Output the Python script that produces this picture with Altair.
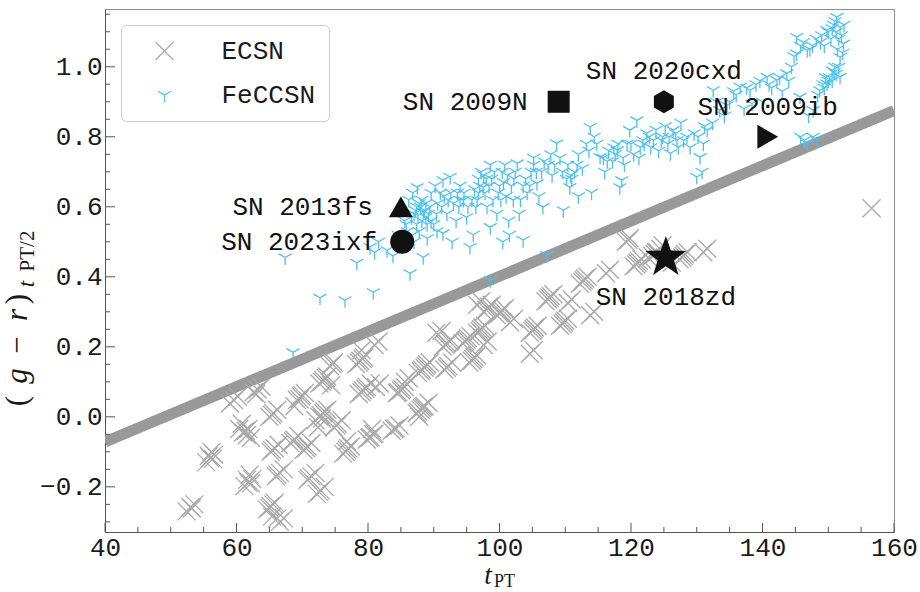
import altair as alt
import pandas as pd

# ---------------- data ----------------
ecsn_pts = [
    (52.4, -0.27), (53.0, -0.258), (53.6, -0.25), (53.2, -0.262),
    (55.4, -0.13), (56.0, -0.118), (56.6, -0.108), (56.2, -0.10), (55.8, -0.112), (56.4, -0.12),
    (59.0, 0.038), (59.6, 0.048), (60.2, 0.058),
    (60.4, -0.035), (61.0, -0.045), (61.6, -0.052), (62.2, -0.06), (60.8, -0.02), (61.4, -0.04), (61.8, -0.035),
    (61.2, -0.198), (61.8, -0.188), (62.4, -0.178), (62.0, -0.165), (61.6, -0.18), (62.2, -0.19),
    (62.6, 0.07), (63.2, 0.078), (63.8, 0.086), (63.0, 0.065),
    (64.6, -0.265), (65.2, -0.255), (65.8, -0.245), (66.6, -0.30), (67.2, -0.29), (65.4, -0.285),
    (65.0, -0.26), (65.6, -0.25), (66.2, -0.29),
    (65.0, 0.0), (65.6, 0.01), (66.2, 0.02), (65.4, 0.005),
    (65.2, -0.10), (65.8, -0.09), (66.4, -0.08), (65.4, -0.095),
    (66.0, -0.17), (66.6, -0.16), (67.2, -0.15), (66.2, -0.165),
    (68.2, -0.075), (68.8, -0.065), (69.4, -0.055), (68.6, -0.07),
    (69.2, 0.048), (69.8, 0.058), (70.4, 0.068), (68.8, 0.03), (69.6, 0.05), (70.0, 0.062),
    (70.2, -0.095), (70.8, -0.085), (71.4, -0.075), (70.6, -0.09),
    (70.8, -0.18), (71.4, -0.17), (72.0, -0.16), (71.0, -0.175),
    (72.2, -0.22), (72.8, -0.21), (73.4, -0.20), (72.6, -0.215),
    (72.0, -0.01), (72.6, 0.0), (73.2, 0.01), (73.8, 0.02), (72.4, -0.03), (72.8, 0.005), (73.0, -0.005), (73.4, 0.015),
    (72.6, 0.095), (73.2, 0.105), (73.8, 0.115), (74.4, 0.09), (73.0, 0.10), (73.6, 0.11),
    (74.2, 0.145), (74.8, 0.155), (74.6, 0.15),
    (74.8, -0.03), (75.4, -0.02), (76.0, -0.01), (75.2, -0.025),
    (76.2, -0.105), (76.8, -0.095), (77.4, -0.085), (76.8, -0.07), (76.6, -0.1), (77.0, -0.09),
    (78.2, 0.15), (78.8, 0.16), (79.4, 0.17), (79.0, 0.19), (78.6, 0.155), (79.2, 0.165),
    (78.6, 0.065), (79.2, 0.076), (79.8, 0.085), (80.4, 0.095), (79.0, 0.07), (79.6, 0.08),
    (79.8, -0.065), (80.4, -0.058), (81.0, -0.048), (80.6, -0.035), (80.2, -0.06), (80.8, -0.05),
    (81.0, 0.205), (81.6, 0.215),
    (81.2, 0.085), (81.8, 0.095),
    (83.6, -0.04), (84.2, -0.033), (84.8, -0.025), (84.0, -0.035),
    (84.4, 0.068), (85.0, 0.076), (85.6, 0.085), (84.6, 0.07), (85.2, 0.08),
    (85.6, 0.10), (86.2, 0.11),
    (87.4, 0.01), (88.0, 0.02), (88.6, 0.03), (89.2, 0.04), (87.8, 0.0), (87.6, 0.015), (88.2, 0.025), (88.4, 0.028),
    (87.6, 0.125), (88.2, 0.135), (88.8, 0.145), (89.4, 0.155), (88.0, 0.13), (88.6, 0.14), (89.0, 0.15),
    (90.4, 0.24), (91.2, 0.245),
    (91.4, 0.20), (92.0, 0.21), (92.6, 0.22), (91.8, 0.205), (92.4, 0.215),
    (91.6, 0.135), (92.2, 0.145), (92.8, 0.155), (92.0, 0.14),
    (94.4, 0.21), (95.0, 0.22), (95.6, 0.23), (94.8, 0.215), (95.2, 0.225),
    (95.4, 0.155), (96.0, 0.165), (96.6, 0.175), (95.8, 0.16), (96.2, 0.17),
    (96.6, 0.24), (97.2, 0.25), (97.8, 0.26), (97.0, 0.245), (97.4, 0.255),
    (96.6, 0.32), (97.2, 0.33),
    (97.6, 0.30), (98.2, 0.31), (98.8, 0.32), (98.0, 0.305), (98.4, 0.315),
    (97.6, 0.205), (98.2, 0.215),
    (99.6, 0.29), (100.2, 0.30), (100.8, 0.31), (100.0, 0.295), (100.4, 0.305),
    (101.6, 0.27), (102.2, 0.28),
    (104.6, 0.24), (105.2, 0.25), (105.8, 0.26), (105.0, 0.245), (105.4, 0.255),
    (104.6, 0.18), (105.2, 0.19),
    (107.0, 0.33), (107.6, 0.34), (108.2, 0.35), (107.4, 0.335), (107.8, 0.345),
    (109.2, 0.26), (109.8, 0.27), (110.4, 0.28), (109.6, 0.265), (110.0, 0.275),
    (110.4, 0.325), (111.0, 0.335),
    (112.2, 0.38), (112.8, 0.39), (113.4, 0.40), (112.6, 0.385), (113.0, 0.395),
    (113.8, 0.29), (114.4, 0.30),
    (116.2, 0.41), (116.8, 0.42),
    (119.2, 0.50), (119.8, 0.51), (119.6, 0.505),
    (120.4, 0.43), (121.0, 0.44), (121.6, 0.45), (120.8, 0.435), (121.2, 0.445),
    (122.6, 0.455), (123.2, 0.46), (123.8, 0.47), (124.4, 0.48), (123.6, 0.465), (124.0, 0.47), (124.8, 0.49),
    (126.2, 0.44), (127.4, 0.45), (128.0, 0.46), (128.6, 0.47), (127.8, 0.455), (128.2, 0.465),
    (131.0, 0.47), (131.6, 0.48),
    (156.6, 0.596),
]

feccsn_pts = [
    (67.4, 0.455), (68.6, 0.184), (72.7, 0.34), (76.5, 0.333), (80.8, 0.356),
    (78.3, 0.44), (80.3, 0.485), (81.0, 0.47), (82.9, 0.476), (81.6, 0.50),
    (83.8, 0.46), (84.6, 0.52), (86.4, 0.41), (86.0, 0.53), (85.6, 0.56), (86.2, 0.62),
    (87.0, 0.58), (87.4, 0.60), (87.8, 0.61), (88.2, 0.62), (87.5, 0.656), (86.8, 0.64),
    (88.8, 0.57), (88.6, 0.59), (89.4, 0.60), (89.0, 0.55), (90.0, 0.55), (90.5, 0.53),
    (89.0, 0.51), (88.4, 0.456), (87.0, 0.50), (87.8, 0.53), (88.2, 0.56),
    (85.8, 0.55), (86.6, 0.57), (87.2, 0.59), (87.6, 0.575), (88.0, 0.60), (88.4, 0.585),
    (88.8, 0.61), (89.2, 0.58), (87.4, 0.55), (86.8, 0.52), (89.6, 0.56), (90.4, 0.58),
    (89.6, 0.64), (90.2, 0.66), (91.4, 0.676), (91.0, 0.64), (90.6, 0.61), (92.0, 0.58),
    (91.2, 0.60), (91.6, 0.63), (92.2, 0.62), (92.6, 0.64), (93.0, 0.61), (93.6, 0.64),
    (92.5, 0.685), (91.4, 0.524), (92.8, 0.50), (93.4, 0.56), (93.8, 0.60), (94.0, 0.62),
    (94.5, 0.619), (94.0, 0.66), (95.0, 0.57), (95.5, 0.485), (96.0, 0.52), (96.4, 0.60),
    (94.6, 0.64), (95.2, 0.60), (95.8, 0.62), (96.2, 0.65), (96.8, 0.68), (97.6, 0.69),
    (96.6, 0.62), (96.8, 0.64), (97.0, 0.66), (97.5, 0.656), (97.2, 0.70), (98.1, 0.60),
    (97.8, 0.64), (98.4, 0.66), (98.8, 0.68), (99.2, 0.70), (99.8, 0.64), (100.2, 0.62),
    (98.6, 0.542), (98.0, 0.68), (98.6, 0.72), (99.0, 0.62), (99.6, 0.58), (100.0, 0.66),
    (100.4, 0.70), (100.8, 0.72), (101.0, 0.63), (101.4, 0.56), (100.5, 0.50), (101.5, 0.52),
    (100.6, 0.67), (101.2, 0.69), (101.8, 0.66), (102.4, 0.70), (103.2, 0.62), (103.6, 0.66),
    (102.1, 0.619), (102.7, 0.724), (102.2, 0.68), (103.6, 0.505), (103.0, 0.58), (104.2, 0.64),
    (104.0, 0.68), (104.6, 0.66), (105.6, 0.70), (106.4, 0.70), (106.8, 0.73), (107.8, 0.75),
    (104.8, 0.70), (105.2, 0.72), (105.7, 0.667), (106.6, 0.599), (106.0, 0.63), (105.2, 0.74),
    (107.2, 0.462), (98.6, 0.39),
    (107.4, 0.72), (108.0, 0.69), (108.7, 0.781), (109.2, 0.74), (109.7, 0.59), (110.2, 0.68),
    (108.4, 0.72), (109.6, 0.70), (110.4, 0.72), (110.8, 0.69), (111.8, 0.72), (113.6, 0.76),
    (110.7, 0.656), (111.0, 0.68), (111.4, 0.70), (112.0, 0.75), (112.0, 0.63), (112.6, 0.71),
    (113.2, 0.78), (113.8, 0.828), (114.0, 0.64), (114.4, 0.80), (115.3, 0.742), (116.0, 0.70),
    (114.8, 0.78), (115.8, 0.74), (116.4, 0.73), (117.4, 0.77), (118.0, 0.78), (118.8, 0.74),
    (116.6, 0.76), (117.2, 0.73), (117.6, 0.75), (117.9, 0.762), (118.3, 0.656), (118.6, 0.676),
    (119.0, 0.72), (119.8, 0.819), (119.4, 0.78), (120.4, 0.75), (120.9, 0.847), (121.8, 0.79),
    (120.0, 0.78), (121.4, 0.77), (122.0, 0.78), (122.8, 0.80), (123.4, 0.79), (124.8, 0.80),
    (121.2, 0.74), (122.4, 0.81), (123.0, 0.77), (123.8, 0.82), (124.2, 0.76), (124.6, 0.79),
    (125.2, 0.83), (125.6, 0.78), (126.0, 0.753), (126.4, 0.819), (127.0, 0.79), (127.6, 0.84),
    (125.8, 0.80), (126.8, 0.81), (127.2, 0.77), (128.0, 0.79), (129.6, 0.81), (130.2, 0.80),
    (128.5, 0.80), (129.0, 0.77), (130.0, 0.685), (130.5, 0.742), (130.8, 0.70), (131.0, 0.78),
    (131.6, 0.819), (132.4, 0.84), (132.5, 0.933), (133.5, 0.876), (134.2, 0.86), (135.0, 0.90),
    (131.2, 0.83), (133.0, 0.90), (134.6, 0.89), (135.6, 0.93), (137.6, 0.94), (139.6, 0.96),
    (136.0, 0.92), (136.6, 0.943), (137.2, 0.88), (138.1, 0.933), (138.4, 0.895), (139.0, 0.95),
    (140.0, 0.90), (140.7, 0.971), (141.4, 0.94), (142.2, 0.962), (143.0, 0.93), (143.7, 0.981),
    (141.0, 0.95), (142.6, 0.97), (144.0, 0.96),
    (144.4, 1.00), (145.2, 1.085), (145.2, 1.038), (145.7, 0.914), (146.8, 1.047), (146.8, 0.781),
    (144.8, 1.03), (145.8, 1.06), (146.2, 1.07), (147.2, 1.05), (148.2, 1.08), (149.0, 1.09),
    (147.7, 0.876), (147.7, 0.80), (148.3, 0.79), (148.7, 0.933), (149.2, 0.95), (149.8, 0.952),
    (149.8, 1.105), (150.4, 1.08), (150.6, 0.96), (151.0, 1.00), (151.3, 1.142), (151.8, 1.113),
    (149.4, 1.06), (150.0, 1.10), (150.6, 1.11), (151.2, 1.10), (151.6, 1.08), (152.2, 1.04),
    (151.8, 1.028), (151.8, 0.971), (152.3, 1.066), (152.0, 1.09), (151.4, 1.05), (150.8, 1.12),
    (151.6, 1.00), (151.2, 0.98), (150.6, 0.99), (150.0, 0.96), (149.6, 0.97), (152.4, 1.12),
    (148.8, 1.07), (147.6, 1.06), (150.2, 0.97), (150.9, 0.985),
    (151.0, 1.13), (149.4, 0.94), (148.4, 0.92), (147.0, 0.86), (146.4, 0.79), (145.8, 0.80),
]

sep_x = [40, 160]
sep_y = [-0.072, 0.875]

named_sn = ["SN 2009N", "SN 2020cxd", "SN 2009ib", "SN 2013fs", "SN 2023ixf", "SN 2018zd"]
named_x = [109.0, 125.0, 140.8, 85.0, 85.2, 125.3]
named_y = [0.90, 0.90, 0.80, 0.60, 0.50, 0.455]

x_major = [40, 60, 80, 100, 120, 140, 160]
x_minor = [45, 50, 55, 65, 70, 75, 85, 90, 95, 105, 110, 115, 125, 130, 135, 145, 150, 155]
y_major = [-0.2, 0.0, 0.2, 0.4, 0.6, 0.8, 1.0]
y_minor = [-0.3, -0.25, -0.15, -0.1, -0.05, 0.05, 0.1, 0.15, 0.25, 0.3, 0.35, 0.45, 0.5,
           0.55, 0.65, 0.7, 0.75, 0.85, 0.9, 0.95, 1.05, 1.1, 1.15]

# ---------------- styling ----------------
W, H = 789, 523
MONO = "Liberation Mono"
FS = 26
SERIF = "Liberation Serif"
GRAY = "#a9a9a9"
BLUE = "#4cc0f0"
BLACK = "#111111"

X_PATH = "M-1,-1L1,1M-1,1L1,-1"
TRI_PATH = "M0,0L0,0.83M0,0L-0.72,-0.415M0,0L0.72,-0.415"
HEX_PATH = "M0,-1L0.866,-0.5L0.866,0.5L0,1L-0.866,0.5L-0.866,-0.5Z"
STAR_PATH = ("M0,-1L0.235,-0.324L0.951,-0.309L0.380,0.124L0.588,0.809L0,0.4"
             "L-0.588,0.809L-0.380,0.124L-0.951,-0.309L-0.235,-0.324Z")

marker_style = {
    "SN 2009N": ("square", 484, "left", -31, 0),
    "SN 2020cxd": (HEX_PATH, 530, "top", 0, -31),
    "SN 2009ib": ("triangle-right", 576, "top", 0, -30),
    "SN 2013fs": ("triangle-up", 576, "left", -28, 0),
    "SN 2023ixf": ("circle", 576, "left", -25, 0),
    "SN 2018zd": (STAR_PATH, 1850, "bottom", 0, 39),
}

xs = alt.Scale(domain=[40, 160], nice=False, zero=False)
ys = alt.Scale(domain=[-0.329, 1.165], nice=False, zero=False)

xaxis = alt.Axis(values=x_major, format="d", title=None, ticks=False, grid=False,
                 labelFont=MONO, labelFontSize=FS, labelColor="#1a1a1a", labelPadding=2,
                 domainColor="#555555", labelFlush=False)
yaxis = alt.Axis(values=y_major, format=".1f", title=None, ticks=False, grid=False,
                 labelFont=MONO, labelFontSize=FS, labelColor="#1a1a1a", labelPadding=3,
                 domainColor="#555555")

# ---------------- tables ----------------
pts_df = pd.DataFrame(
    [{"t": x, "c": y, "type": "ECSN"} for x, y in ecsn_pts]
    + [{"t": x, "c": y, "type": "FeCCSN"} for x, y in feccsn_pts]
)
sep_df = pd.DataFrame({"t": sep_x, "c": sep_y})
named_df = pd.DataFrame({
    "name": named_sn, "t": named_x, "c": named_y,
    "shape": [marker_style[n][0] for n in named_sn],
    "size": [marker_style[n][1] for n in named_sn],
})

# ---------------- layers ----------------
sep = alt.Chart(sep_df).mark_line(color="#999999", strokeWidth=11, strokeCap="butt", clip=True).encode(
    x=alt.X("t:Q", scale=xs, axis=xaxis),
    y=alt.Y("c:Q", scale=ys, axis=yaxis),
)

legend = alt.Legend(title=None, orient="top-left", offset=16, padding=13,
                    symbolOffset=17.5, labelOffset=44, rowPadding=18,
                    labelFont=MONO, labelFontSize=FS, labelColor="#1a1a1a",
                    symbolSize=324, symbolStrokeWidth=1.3,
                    strokeColor="#cccccc", fillColor="white", cornerRadius=5)

points = alt.Chart(pts_df).mark_point(filled=False, strokeWidth=1.3, opacity=1, size=324).encode(
    x=alt.X("t:Q", scale=xs, axis=xaxis),
    y=alt.Y("c:Q", scale=ys, axis=yaxis),
    shape=alt.Shape("type:N", scale=alt.Scale(domain=["ECSN", "FeCCSN"], range=[X_PATH, TRI_PATH]),
                    legend=legend),
    color=alt.Color("type:N", scale=alt.Scale(domain=["ECSN", "FeCCSN"], range=[GRAY, BLUE]),
                    legend=legend),
)

named = alt.Chart(named_df).mark_point(filled=True, color=BLACK, opacity=1).encode(
    x=alt.X("t:Q", scale=xs, axis=xaxis),
    y=alt.Y("c:Q", scale=ys, axis=yaxis),
    shape=alt.Shape("shape:N", scale=None, legend=None),
    size=alt.Size("size:Q", scale=None, legend=None),
)

label_layers = []
for n in named_sn:
    _, _, pos, dx, dy = marker_style[n]
    align = {"left": "right", "top": "center", "bottom": "center"}[pos]
    sub = named_df[named_df["name"] == n]
    label_layers.append(
        alt.Chart(sub).mark_text(font=MONO, fontSize=FS, color=BLACK, align=align,
                                 baseline="middle", dx=dx, dy=dy).encode(
            x=alt.X("t:Q", scale=xs, axis=xaxis),
            y=alt.Y("c:Q", scale=ys, axis=yaxis),
            text="name:N",
        )
    )


def tick_layer(vals, orient, length):
    df = pd.DataFrame({"v": vals})
    if orient == "x":
        return alt.Chart(df).mark_rule(color="#555555", strokeWidth=1).encode(
            x=alt.X("v:Q", scale=xs, axis=xaxis), y=alt.value(H), y2=alt.value(H - length))
    return alt.Chart(df).mark_rule(color="#555555", strokeWidth=1).encode(
        y=alt.Y("v:Q", scale=ys, axis=yaxis), x=alt.value(0), x2=alt.value(length))


ticks = [tick_layer(x_major, "x", 9), tick_layer(x_minor, "x", 5),
         tick_layer(y_major, "y", 10), tick_layer(y_minor, "y", 5)]


def txt(s, x, y, size, style="normal", angle=0, align="center", baseline="alphabetic"):
    kw = dict(text=s, font=SERIF, fontSize=size, fontStyle=style, color="#1a1a1a",
              align=align, baseline=baseline)
    if angle:
        kw["angle"] = angle
    return alt.Chart(pd.DataFrame({"a": [0]})).mark_text(**kw).encode(
        x=alt.value(x), y=alt.value(y))


titles = [
    txt("t", 383, 575, 27, "italic"),
    txt("PT", 389, 578, 18, align="left"),
    txt("(", -78, 392, 31, angle=270),
    txt("g", -78, 367, 31, "italic", angle=270),
    txt("\u2212", -78, 336, 31, angle=270),
    txt("r", -78, 306, 31, "italic", angle=270),
    txt(")", -78, 290, 31, angle=270),
    txt("t", -71, 275, 23, "italic", angle=270),
    txt("PT/2", -71, 242, 21, angle=270),
]

chart = alt.layer(sep, points, named, *label_layers, *ticks, *titles).resolve_scale(
    shape="independent", size="independent", color="independent"
).properties(
    width=W, height=H,
    padding={"left": 105, "top": 9, "right": 26, "bottom": 60},
    autosize=alt.AutoSizeParams(type="none"),
).configure_view(stroke="#8c8c8c", strokeWidth=1)

chart.save("out.html", embed_options={"renderer": "svg", "actions": False})
